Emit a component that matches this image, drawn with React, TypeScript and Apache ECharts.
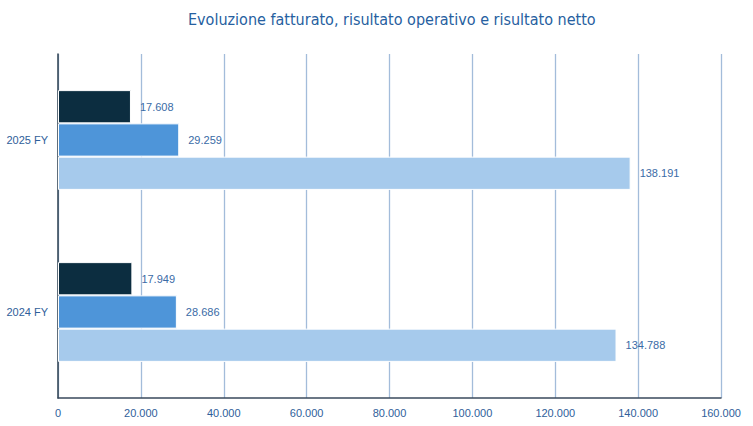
import React, { useEffect, useRef } from "react";
import * as echarts from "echarts";

const categories = ["2024 FY", "2025 FY"];
const seriesNames = ["Risultato netto", "Risultato operativo", "Fatturato"];
const risultatoNetto = [17949, 17608];
const risultatoOperativo = [28686, 29259];
const fatturato = [134788, 138191];
const seriesColors = ["#0C2D40", "#4E95D9", "#A6CAEC"];
const titleText = "Evoluzione fatturato, risultato operativo e risultato netto";

const fmt = (v: number) =>
  String(Math.round(v)).replace(/\B(?=(\d{3})+(?!\d))/g, ".");

export default function App() {
  const ref = useRef<HTMLDivElement>(null);
  useEffect(() => {
    if (!ref.current) return;
    const chart = echarts.init(ref.current, undefined, { renderer: "svg" });
    const values = [risultatoNetto, risultatoOperativo, fatturato];
    chart.setOption({
      animation: false,
      backgroundColor: "#ffffff",
      title: {
        text: titleText,
        left: 183,
        top: 6,
        textStyle: {
          fontFamily: "'Liberation Sans Narrow', 'DejaVu Sans Condensed', 'Liberation Sans', sans-serif",
          fontSize: 16,
          fontWeight: "normal",
          color: "#2660A0",
        },
      },
      grid: { left: 58, right: 32, top: 54, bottom: 28, containLabel: false },
      xAxis: {
        type: "value",
        min: 0,
        max: 160000,
        interval: 20000,
        axisLine: { show: true, lineStyle: { color: "#3A4A5C", width: 1.5 } },
        axisTick: { show: false },
        splitLine: { show: true, lineStyle: { color: "#A3BCDA", width: 1.3 } },
        axisLabel: {
          formatter: (v: number) => fmt(v),
          fontFamily: "Liberation Sans",
          fontSize: 11,
          color: "#2F609A",
          margin: 9,
        },
      },
      yAxis: {
        type: "category",
        data: categories,
        axisLine: { show: true, lineStyle: { color: "#2E4050", width: 1.5 } },
        axisTick: { show: false },
        splitLine: { show: false },
        axisLabel: {
          fontFamily: "Liberation Sans",
          fontSize: 11,
          color: "#2F609A",
          margin: 10,
        },
      },
      series: seriesNames.map((name, i) => ({
        name,
        type: "bar",
        data: values[i],
        barGap: "0%",
        barCategoryGap: "42%",
        itemStyle: { color: seriesColors[i], borderColor: "#ffffff", borderWidth: 1 },
        label: {
          show: true,
          position: "right",
          distance: 9,
          formatter: (p: any) => fmt(p.value),
          fontFamily: "Liberation Sans",
          fontSize: 11,
          color: "#3A6BA6",
        },
      })),
    });
    return () => chart.dispose();
  }, []);
  return (
    <div
      ref={ref}
      style={{ position: "absolute", left: 0, top: 0, width: 753, height: 426 }}
    />
  );
}
